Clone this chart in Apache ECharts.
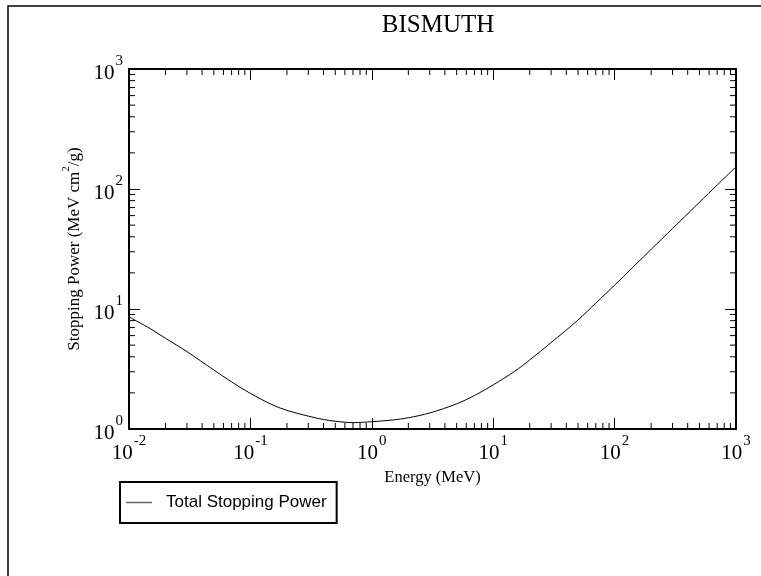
<!DOCTYPE html>
<html>
<head>
<meta charset="utf-8">
<script src="https://cdn.jsdelivr.net/npm/echarts@6/dist/echarts.min.js"></script>
<style>html,body{margin:0;padding:0;background:#fff}#c{width:761px;height:576px}</style>
</head>
<body>
<div id="c"></div>
<script>
// Energy (MeV)
var energy = [0.01, 0.015, 0.02, 0.03, 0.05, 0.07, 0.1, 0.15, 0.2, 0.3, 0.4, 0.5, 0.7, 1, 1.5, 2, 3, 5, 7, 10, 15, 20, 30, 50, 70, 100, 200, 300, 500, 700, 1000];
// Total stopping power (MeV cm2/g)
var stopping = [8.6, 6.85, 5.7, 4.42, 3.1, 2.47, 1.98, 1.6, 1.43, 1.28, 1.2, 1.16, 1.13, 1.15, 1.19, 1.24, 1.36, 1.62, 1.9, 2.33, 3.02, 3.76, 5.25, 8.1, 11.2, 15.8, 31.4, 46.8, 77.5, 108, 153];
var xMinorTicks = [];
[0.01, 0.1, 1, 10, 100].forEach(function (d) { for (var k = 2; k <= 9; k++) xMinorTicks.push(+(d * k).toPrecision(3)); });
var yMinorTicks = [];
[1, 10, 100].forEach(function (d) { for (var k = 2; k <= 9; k++) yMinorTicks.push(d * k); });
var xMin = 0.01, xMax = 1000, yMin = 1, yMax = 1000;

var serif = 'Liberation Serif';
function powLabel(v) {
  var e = Math.round(Math.log10(v));
  return '{b|10}{s|' + e + '}';
}
var rich = {
  b: { fontFamily: serif, fontSize: 21, color: '#000', lineHeight: 30, verticalAlign: 'bottom' },
  s: { fontFamily: serif, fontSize: 15, color: '#000', lineHeight: 14, verticalAlign: 'top', padding: [0, 0, 0, 1] }
};

var chart = echarts.init(document.getElementById('c'));
var axisLine = { show: true, onZero: false, lineStyle: { color: '#000', width: 2 } };
var majorTick = { show: true, inside: true, length: 11, lineStyle: { color: '#000', width: 1 } };

function minorRender(dir) {
  return function (params, api) {
    var shapes = [];
    if (dir === 'x') {
      var v = api.value(0);
      var b = api.coord([v, yMin]), t = api.coord([v, yMax]);
      shapes.push({ type: 'line', shape: { x1: b[0], y1: b[1], x2: b[0], y2: b[1] - 6 }, style: { stroke: '#000', lineWidth: 1 } });
      shapes.push({ type: 'line', shape: { x1: t[0], y1: t[1], x2: t[0], y2: t[1] + 6 }, style: { stroke: '#000', lineWidth: 1 } });
    } else {
      var w = api.value(1);
      var l = api.coord([xMin, w]), r = api.coord([xMax, w]);
      shapes.push({ type: 'line', shape: { x1: l[0], y1: l[1], x2: l[0] + 6, y2: l[1] }, style: { stroke: '#000', lineWidth: 1 } });
      shapes.push({ type: 'line', shape: { x1: r[0], y1: r[1], x2: r[0] - 6, y2: r[1] }, style: { stroke: '#000', lineWidth: 1 } });
    }
    return { type: 'group', children: shapes };
  };
}

chart.setOption({
  animation: false,
  backgroundColor: '#fff',
  title: {
    text: 'BISMUTH', left: 433, top: 8, textAlign: 'center',
    textStyle: { fontFamily: serif, fontSize: 25, fontWeight: 'normal', color: '#000' }
  },
  graphic: [{
    type: 'rect', shape: { x: 8, y: 6, width: 800, height: 700 },
    style: { fill: null, stroke: '#000', lineWidth: 1.5 }, silent: true
  }],
  legend: {
    left: 120, top: 482,
    data: ['Total Stopping Power'],
    icon: 'rect', itemWidth: 26, itemHeight: 1.5,
    itemStyle: { color: '#666' },
    padding: [12, 10, 12, 6],
    borderColor: '#000', borderWidth: 2,
    textStyle: { fontFamily: 'Liberation Sans', fontSize: 17, color: '#000', padding: [0, 0, 0, 9] }
  },
  grid: { left: 129, right: 25, top: 69, bottom: 147 },
  xAxis: [{
    type: 'log', min: xMin, max: xMax, logBase: 10,
    name: 'Energy (MeV)', nameLocation: 'middle', nameGap: 38,
    nameTextStyle: { fontFamily: serif, fontSize: 16.5, color: '#000' },
    axisLine: axisLine, axisTick: majorTick,
    axisLabel: { formatter: powLabel, rich: rich, margin: 5, showMinLabel: true, showMaxLabel: true },
    splitLine: { show: false }
  }, {
    type: 'log', min: xMin, max: xMax, logBase: 10, position: 'top',
    axisLine: axisLine, axisTick: majorTick, axisLabel: { show: false }, splitLine: { show: false }
  }],
  yAxis: [{
    type: 'log', min: yMin, max: yMax, logBase: 10,
    name: '{n|Stopping Power (MeV cm}{sup|2}{n|/g)}', nameLocation: 'middle', nameGap: 45,
    nameTextStyle: {
      rich: {
        n: { fontFamily: serif, fontSize: 17, color: '#000', lineHeight: 22, verticalAlign: 'bottom' },
        sup: { fontFamily: serif, fontSize: 11, color: '#000', lineHeight: 12, verticalAlign: 'top' }
      }
    },
    axisLine: axisLine, axisTick: majorTick,
    axisLabel: { formatter: powLabel, rich: rich, margin: 6, showMinLabel: true, showMaxLabel: true },
    splitLine: { show: false }
  }, {
    type: 'log', min: yMin, max: yMax, logBase: 10, position: 'right',
    axisLine: axisLine, axisTick: majorTick, axisLabel: { show: false }, splitLine: { show: false }
  }],
  series: [{
    name: 'Total Stopping Power', type: 'line',
    data: energy.map(function (e, i) { return [e, stopping[i]]; }),
    showSymbol: false, smooth: 0.3,
    lineStyle: { color: '#000', width: 1 }, itemStyle: { color: '#000' }
  }, {
    type: 'custom', silent: true, renderItem: minorRender('x'),
    data: xMinorTicks.map(function (v) { return [v, yMin]; }), z: 5
  }, {
    type: 'custom', silent: true, renderItem: minorRender('y'),
    data: yMinorTicks.map(function (v) { return [xMin, v]; }), z: 5
  }]
});
</script>
</body>
</html>
